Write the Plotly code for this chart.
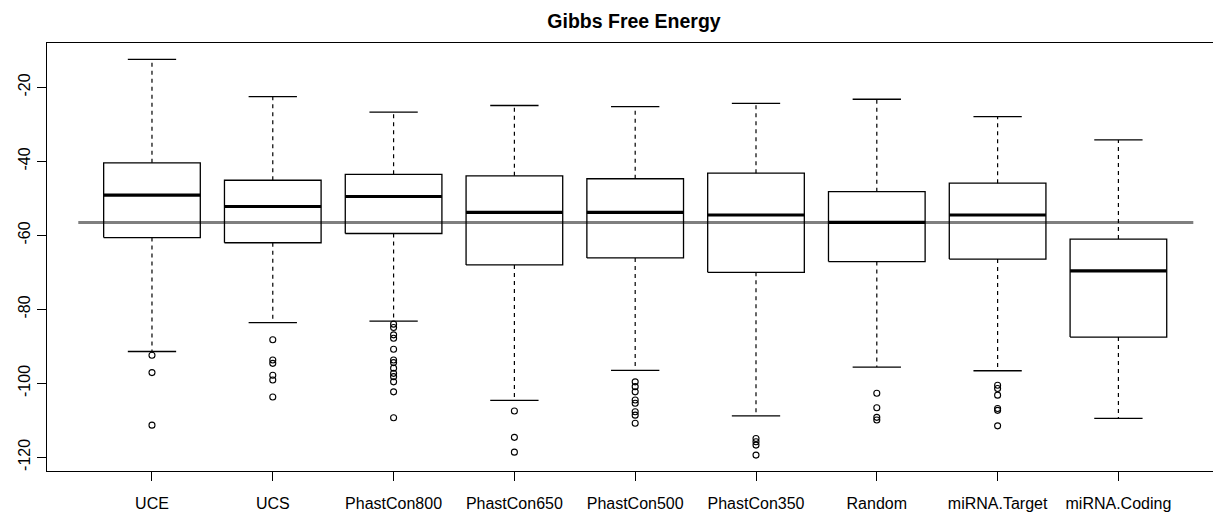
import plotly.graph_objects as go

categories = ["UCE", "UCS", "PhastCon800", "PhastCon650", "PhastCon500",
              "PhastCon350", "Random", "miRNA.Target", "miRNA.Coding"]
upper_whisker = [-12.4, -22.5, -26.7, -24.9, -25.2, -24.3, -23.2, -27.9, -34.2]
q3 = [-40.4, -45.1, -43.5, -43.9, -44.7, -43.2, -48.2, -45.9, -61.0]
median = [-49.1, -52.2, -49.5, -53.8, -53.8, -54.5, -56.5, -54.5, -69.6]
q1 = [-60.6, -62.0, -59.5, -68.0, -66.1, -70.0, -67.1, -66.4, -87.5]
lower_whisker = [-91.4, -83.6, -83.2, -104.6, -96.5, -108.8, -95.6, -96.6, -109.5]
outliers = [
    [-92.4, -97.1, -111.3],
    [-88.2, -93.7, -94.6, -97.8, -99.1, -103.7],
    [-84.0, -84.9, -86.9, -87.8, -90.8, -93.7, -94.4, -95.9, -97.3, -98.2, -99.6, -102.3, -109.3],
    [-107.5, -114.6, -118.6],
    [-99.6, -100.9, -102.3, -104.5, -105.4, -107.7, -108.6, -110.8],
    [-114.9, -115.8, -116.7, -119.4],
    [-102.7, -106.6, -109.2, -109.9],
    [-100.5, -101.4, -103.2, -106.8, -107.3, -111.5],
    [],
]
overall_mean = -56.5

BOX_HALF = 0.4
CAP_HALF = 0.2

pos = list(range(1, len(categories) + 1))

bx, by, mx, my, wx, wy, cx, cy, ox, oy = [], [], [], [], [], [], [], [], [], []
for i, p in enumerate(pos):
    l, r = p - BOX_HALF, p + BOX_HALF
    bx += [l, r, r, l, l, None]
    by += [q1[i], q1[i], q3[i], q3[i], q1[i], None]
    mx += [l, r, None]
    my += [median[i], median[i], None]
    wx += [p, p, None, p, p, None]
    wy += [q3[i], upper_whisker[i], None, q1[i], lower_whisker[i], None]
    cx += [p - CAP_HALF, p + CAP_HALF, None, p - CAP_HALF, p + CAP_HALF, None]
    cy += [upper_whisker[i], upper_whisker[i], None, lower_whisker[i], lower_whisker[i], None]
    for v in outliers[i]:
        ox.append(p)
        oy.append(v)

fig = go.Figure()
fig.add_trace(go.Scatter(x=[pos[0] - 0.61, pos[-1] + 0.62], y=[overall_mean, overall_mean],
                         mode="lines", line=dict(color="#7f7f7f", width=3), hoverinfo="skip"))
fig.add_trace(go.Scatter(x=wx, y=wy, mode="lines",
                         line=dict(color="black", width=1.2, dash="4px,4px")))
fig.add_trace(go.Scatter(x=cx, y=cy, mode="lines", line=dict(color="black", width=1.3)))
fig.add_trace(go.Scatter(x=bx, y=by, mode="lines", line=dict(color="black", width=1.3)))
fig.add_trace(go.Scatter(x=mx, y=my, mode="lines", line=dict(color="black", width=3.2)))
fig.add_trace(go.Scatter(x=ox, y=oy, mode="markers",
                         marker=dict(symbol="circle-open", size=6, color="black",
                                     line=dict(width=1.1, color="black"))))

font_family = "Liberation Sans, Arial, sans-serif"
fig.update_layout(
    width=1213, height=512,
    margin=dict(l=47, r=0, t=43, b=41),
    paper_bgcolor="white", plot_bgcolor="white",
    showlegend=False,
    font=dict(family=font_family, size=16, color="black"),
    title=dict(text="<b>Gibbs Free Energy</b>", x=634 / 1213, xanchor="center",
               y=1 - 21 / 512, yanchor="middle",
               font=dict(family=font_family, size=19.5, color="black")),
)
fig.update_xaxes(
    range=[0.131, 9.783], tickmode="array", tickvals=pos, ticktext=categories,
    showline=True, linecolor="black", linewidth=1.3, mirror=True,
    ticks="outside", ticklen=9, tickwidth=1.2, tickcolor="black",
    showgrid=False, zeroline=False, ticklabelstandoff=9,
)
fig.update_yaxes(
    range=[-123.7, -8.0], tickmode="array", tickvals=[-20, -40, -60, -80, -100, -120],
    ticktext=["-20", "-40", "-60", "-80", "-100", "-120"], tickangle=-90,
    showline=True, linecolor="black", linewidth=1.3,
    ticks="outside", ticklen=9, tickwidth=1.2, tickcolor="black",
    showgrid=False, zeroline=False,
)

fig.write_html("out.html")
